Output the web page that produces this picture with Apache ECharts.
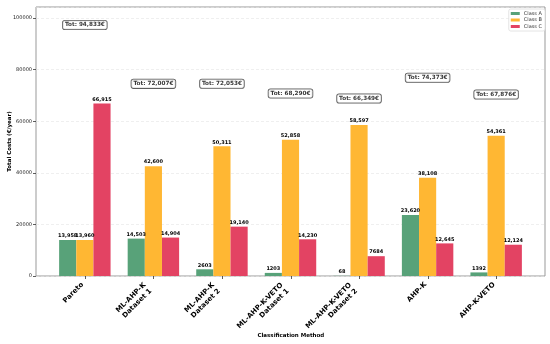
<!DOCTYPE html>
<html><head><meta charset="utf-8">
<script src="https://cdn.jsdelivr.net/npm/echarts@6/dist/echarts.min.js"></script>
<style>html,body{margin:0;padding:0;background:#fff}#c{width:550px;height:344px}</style>
</head><body><div id="c"></div>
<script>
const categories = ['Pareto','ML-AHP-K\nDataset 1','ML-AHP-K\nDataset 2','ML-AHP-K-VETO\nDataset 1','ML-AHP-K-VETO\nDataset 2','AHP-K','AHP-K-VETO'];
const classA = [13958,14503,2603,1203,68,23620,1392];
const classB = [13960,42600,50311,52858,58597,38108,54361];
const classC = [66915,14904,19140,14230,7684,12645,12124];
const totals = [94833,72007,72053,68290,66349,74373,67876];
const yTickStep = 20000;
const yMax = 104316;
const seriesNames = ['Class A','Class B','Class C'];
const colors = ['#58a279','#ffb733','#e34363'];

const FONT = 'DejaVu Sans';
const fmtBar = v => v >= 10000 ? v.toLocaleString('en-US') : String(v);

function barSeries(name, vals, color){
  return {
    name, type:'bar', xAxisIndex:0, yAxisIndex:0,
    data: vals.map((v,i)=>[i,v]),
    barWidth: 17.15, barGap:'0%',
    itemStyle:{color},
    label:{show:true, position:'top', distance:1.5, fontFamily:FONT, fontWeight:'bold', fontSize:5, color:'#000',
      formatter: p => fmtBar(p.value[1])}
  };
}
function catAxis(multi, withName){
  const ax = {type:'category', gridIndex:1, position:'bottom', data:categories, boundaryGap:true,
    axisLine:{show:false, onZero:false},
    axisTick:{show:!multi, alignWithLabel:true, length:3, lineStyle:{color:'#333', width:0.8}},
    axisLabel:{rotate:45, margin:5, fontFamily:FONT, fontWeight:'bold', fontSize:7, color:'#000', interval:0, align:'right',
      lineHeight:8.4, padding:[0, multi ? 8.4 : 3.5, 0, 0],
      formatter: v => ((v.indexOf('\n') >= 0) === multi ? v : '')}
  };
  if (withName) {
    ax.name = 'Classification Method'; ax.nameLocation = 'middle'; ax.nameGap = 57; ax.nameMoveOverlap = false;
    ax.nameTextStyle = {fontFamily:FONT, fontWeight:'bold', fontSize:5.5, color:'#000'};
  }
  return ax;
}

const chart = echarts.init(document.getElementById('c'), null, {renderer:'canvas'});
chart.setOption({
  animation:false,
  textStyle:{fontFamily:FONT},
  grid:[
    {left:36, top:7, width:509, height:269, show:true, borderColor:'#999', borderWidth:1, backgroundColor:'rgba(0,0,0,0)', containLabel:false, outerBoundsMode:'none'},
    {left:50.7, top:7, width:480.2, height:269, containLabel:false, outerBoundsMode:'none'}
  ],
  legend:{
    data:seriesNames, orient:'vertical', right:5, top:9,
    icon:'rect', itemWidth:9, itemHeight:3, itemGap:1.5,
    textStyle:{fontFamily:FONT, fontSize:5, color:'#333', padding:[0,0,0,-1]},
    backgroundColor:'#fff', borderColor:'#ddd', borderWidth:0.8, borderRadius:2, padding:[2,3,2,2]
  },
  xAxis:[
    {type:'value', gridIndex:0, min:-0.7125, max:6.7125, axisLabel:{show:false}, axisTick:{show:false}, axisLine:{show:false, onZero:false}, splitLine:{show:false}},
    catAxis(false, true),
    catAxis(true, false)
  ],
  yAxis:[
    {type:'value', gridIndex:0, min:0, max:yMax, interval:yTickStep,
      axisLine:{show:false, onZero:false}, axisTick:{show:true, length:3, lineStyle:{color:'#333', width:0.8}},
      axisLabel:{margin:4, fontFamily:FONT, fontSize:5, color:'#222', showMaxLabel:false,
        formatter: v => (v % yTickStep === 0 ? String(v) : '')},
      splitLine:{show:true, lineStyle:{color:'#e4e4e4', width:0.6, type:[3,2]}},
      name:'Total Costs (€/year)', nameLocation:'middle', nameGap:23, nameMoveOverlap:false,
      nameTextStyle:{fontFamily:FONT, fontWeight:'bold', fontSize:5.5, color:'#000'}},
    {type:'value', gridIndex:1, show:false, min:0, max:yMax}
  ],
  series:[
    barSeries(seriesNames[0], classA, colors[0]),
    barSeries(seriesNames[1], classB, colors[1]),
    barSeries(seriesNames[2], classC, colors[2]),
    {type:'scatter', xAxisIndex:0, yAxisIndex:0, symbolSize:0, z:10, silent:true,
      data: totals.map((t,i)=>[i, t + 2500]),
      label:{show:true, position:'inside', fontFamily:FONT, fontWeight:'bold', fontSize:5.7, color:'#000',
        backgroundColor:'#fff', borderColor:'#333', borderWidth:0.8, borderRadius:2, padding:[1.5,2,1,2],
        formatter: p => 'Tot: ' + totals[p.dataIndex].toLocaleString('en-US') + '€'}}
  ]
});
</script></body></html>
